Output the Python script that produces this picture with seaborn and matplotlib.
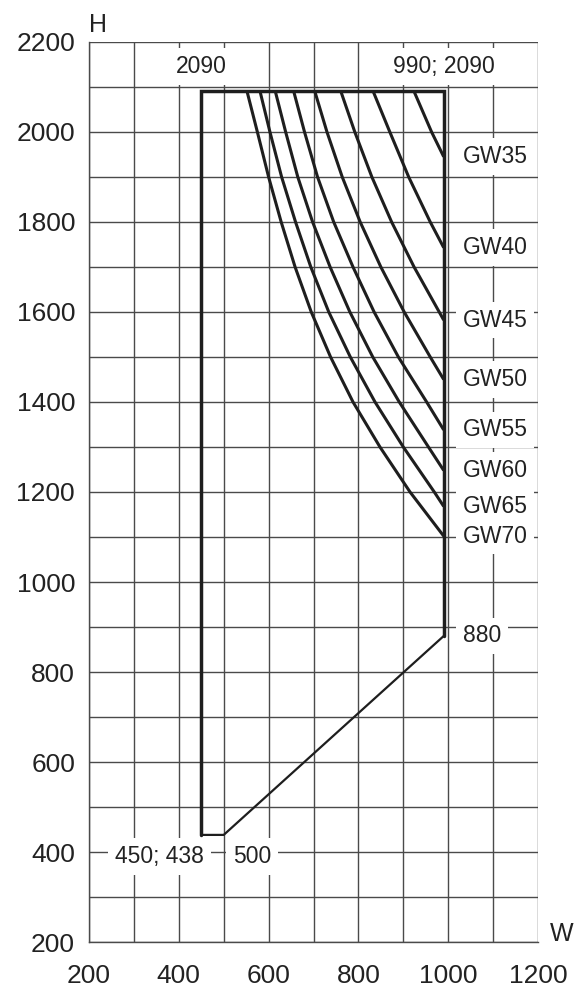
import numpy as np
import pandas as pd
import matplotlib
matplotlib.use("Agg")
import matplotlib.pyplot as plt
from matplotlib.ticker import MultipleLocator
import seaborn as sns

sns.set_style("white")
plt.rcParams['font.family'] = ['Liberation Sans', 'DejaVu Sans']

# curve data (W, H), each ends on the right edge W=990
gw35_w = [924, 963, 990]
gw35_h = [2090, 2000, 1945]
gw40_w = [833, 870, 912, 960, 990]
gw40_h = [2090, 2000, 1900, 1800, 1743]
gw45_w = [761, 792, 830, 874, 924, 980, 990]
gw45_h = [2090, 2000, 1900, 1800, 1700, 1600, 1582]
gw50_w = [703, 730, 764, 804, 850, 902, 960, 990]
gw50_h = [2090, 2000, 1900, 1800, 1700, 1600, 1500, 1450]
gw55_w = [656, 680, 709, 745, 788, 835, 889, 952, 990]
gw55_h = [2090, 2000, 1900, 1800, 1700, 1600, 1500, 1400, 1338]
gw60_w = [615, 638, 665, 698, 737, 781, 832, 891, 956, 990]
gw60_h = [2090, 2000, 1900, 1800, 1700, 1600, 1500, 1400, 1300, 1248]
gw65_w = [581, 603, 629, 660, 694, 734, 782, 837, 900, 969, 990]
gw65_h = [2090, 2000, 1900, 1800, 1700, 1600, 1500, 1400, 1300, 1200, 1168]
gw70_w = [552, 575, 600, 628, 659, 695, 738, 788, 848, 915, 990]
gw70_h = [2090, 2000, 1900, 1800, 1700, 1600, 1500, 1400, 1300, 1200, 1102]

curve_names = ["GW35", "GW40", "GW45", "GW50", "GW55", "GW60", "GW65", "GW70"]
curve_w = [gw35_w, gw40_w, gw45_w, gw50_w, gw55_w, gw60_w, gw65_w, gw70_w]
curve_h = [gw35_h, gw40_h, gw45_h, gw50_h, gw55_h, gw60_h, gw65_h, gw70_h]

# outer boundary
outline_w = [450, 450, 990, 990]
outline_h = [438, 2090, 2090, 880]
base_w = [990, 500, 450]
base_h = [880, 438, 438]

rows = []
for name, ws, hs in zip(curve_names, curve_w, curve_h):
    for i, (w, h) in enumerate(zip(ws, hs)):
        rows.append({"curve": name, "order": i, "W": w, "H": h})
df = pd.DataFrame(rows)

line_col = "#1e1e1e"
grid_col = "#4a4a4a"

fig = plt.figure(figsize=(5.81, 10), dpi=100)
ax = fig.add_axes([0.1532, 0.058, 0.7728, 0.9])

sns.lineplot(data=df, x="W", y="H", units="curve", estimator=None, sort=False,
             color=line_col, lw=2.2, ax=ax, zorder=3,
             solid_joinstyle="round", solid_capstyle="butt")
sns.lineplot(x=outline_w, y=outline_h, sort=False, estimator=None,
             color=line_col, lw=2.5, ax=ax, zorder=3, solid_joinstyle="miter")
sns.lineplot(x=base_w, y=base_h, sort=False, estimator=None,
             color=line_col, lw=1.6, ax=ax, zorder=3)

ax.set_xlim(200, 1200)
ax.set_ylim(200, 2200)
ax.xaxis.set_major_locator(MultipleLocator(200))
ax.xaxis.set_minor_locator(MultipleLocator(100))
ax.yaxis.set_major_locator(MultipleLocator(200))
ax.yaxis.set_minor_locator(MultipleLocator(100))
ax.grid(True, which="both", color=grid_col, lw=1.0)
ax.set_axisbelow(True)
ax.tick_params(which="major", direction="out", length=6, width=1.0, color=grid_col,
               labelsize=19, labelcolor="#222222", pad=4)
ax.tick_params(which="minor", length=0)
ax.tick_params(axis="x", pad=10)
for s in ["top", "right"]:
    ax.spines[s].set_visible(False)
for s in ["left", "bottom"]:
    ax.spines[s].set_color(grid_col)
    ax.spines[s].set_linewidth(1.0)
ax.set_xlabel("")
ax.set_ylabel("")

ax.text(201, 2222, "H", fontsize=18, color="#222222", ha="left", va="baseline", clip_on=False)
ax.text(1226, 203, "W", fontsize=18, color="#222222", ha="left", va="baseline", clip_on=False)

box = dict(boxstyle="square,pad=0.3", fc="white", ec="none")
lab_kw = dict(fontsize=16.5, color="#222222", bbox=box, zorder=4, clip_on=False)
ax.text(450, 2145, "2090", ha="center", va="center", **lab_kw)
ax.text(990, 2145, "990; 2090", ha="center", va="center", **lab_kw)
for name, hs in zip(curve_names, curve_h):
    ax.text(1032, hs[-1], name, ha="left", va="center", **lab_kw)
ax.text(1032, 880, "880", ha="left", va="center", **lab_kw)
ax.text(456, 390, "450; 438", ha="right", va="center", **lab_kw)
ax.text(520, 390, "500", ha="left", va="center", **lab_kw)

plt.savefig("out.png", dpi=100)
